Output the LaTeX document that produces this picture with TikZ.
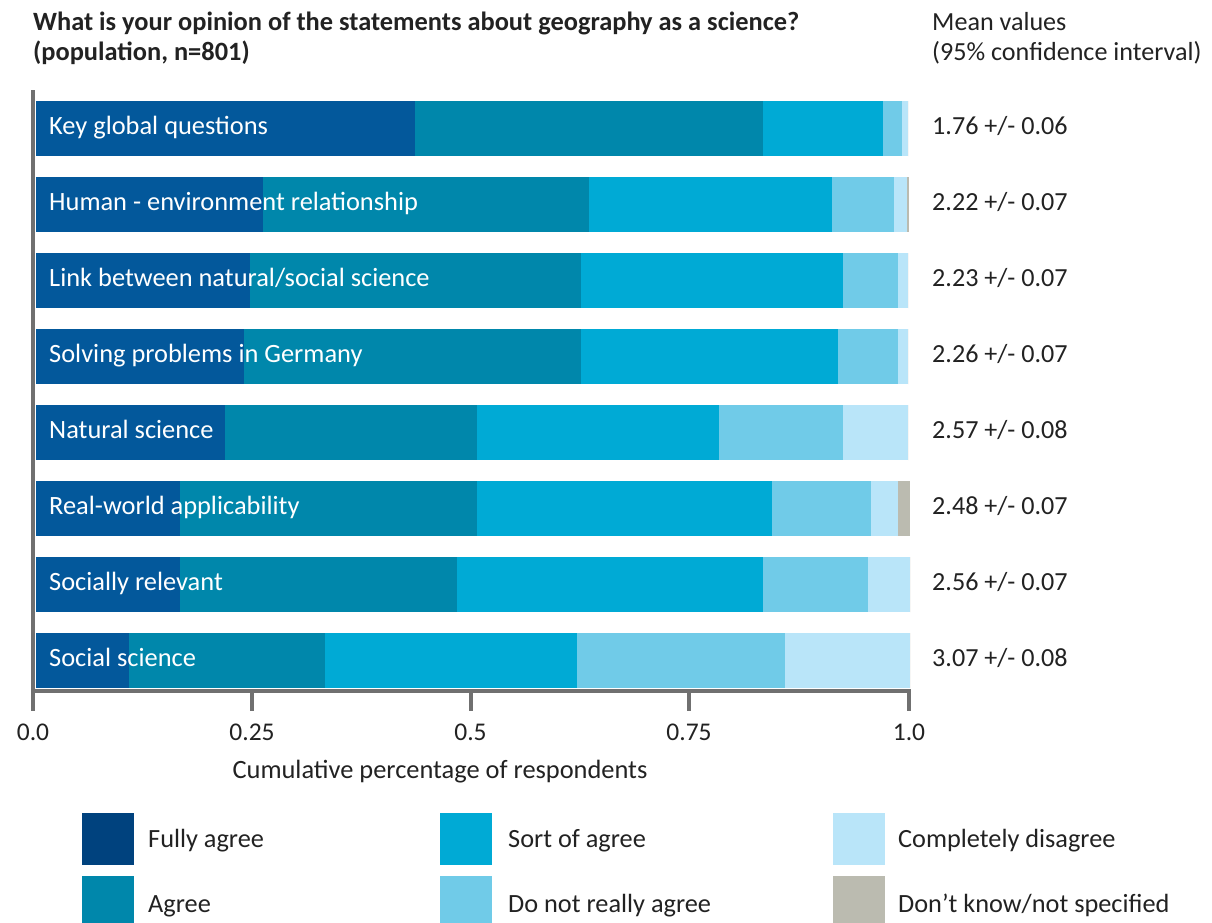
\documentclass[tikz,border=0pt]{standalone}
\usepackage{fontspec}
\setmainfont{Carlito}
\definecolor{cfa}{HTML}{03589B}
\definecolor{cfaleg}{HTML}{00427E}
\definecolor{cag}{HTML}{0087AB}
\definecolor{cso}{HTML}{00AAD5}
\definecolor{cnr}{HTML}{70CBE8}
\definecolor{ccd}{HTML}{B9E5F9}
\definecolor{cdk}{HTML}{BBBBB0}
\definecolor{ctxt}{HTML}{222222}
\definecolor{caxis}{HTML}{707070}
\begin{document}
\begin{tikzpicture}[x=1pt,y=-1pt,
  barlbl/.style={anchor=base west,inner sep=0pt,text=white,font=\fontsize{26.4}{30}\selectfont},
  valtxt/.style={anchor=base west,inner sep=0pt,text=ctxt,font=\fontsize{26.1}{30}\selectfont},
  titletxt/.style={anchor=base west,inner sep=0pt,text=ctxt,font=\bfseries\fontsize{26.4}{30}\selectfont},
  ticktxt/.style={anchor=base,inner sep=0pt,text=ctxt,font=\fontsize{25.5}{30}\selectfont},
  legtxt/.style={anchor=base west,inner sep=0pt,text=ctxt,font=\fontsize{26.3}{30}\selectfont},
  axisline/.style={draw=caxis,line width=4pt}]
\useasboundingbox (0,0) rectangle (1212,922);
\fill[white] (0,0) rectangle (1212,922);
% titles
\node[titletxt] (t1) at (33,30) {What is your opinion of the statements about geography as a science?};
\node[titletxt] (t2) at (33,60) {(population, n=801)};
\node[valtxt] (m1) at (932,30) {Mean values};
\node[valtxt] (m2) at (932,60) {(95\% confidence interval)};
% bars
\newcommand\mybar[7]{%
  \fill[cfa] (36,#1) rectangle (#2,#1+55);
  \fill[cag] (#2,#1) rectangle (#3,#1+55);
  \fill[cso] (#3,#1) rectangle (#4,#1+55);
  \fill[cnr] (#4,#1) rectangle (#5,#1+55);
  \fill[ccd] (#5,#1) rectangle (#6,#1+55);
  \fill[cdk] (#6,#1) rectangle (#7,#1+55);}
\mybar{101}{415}{763}{883}{902}{908}{908}
\mybar{177}{263}{589}{832}{894}{907}{908.5}
\mybar{253}{250}{581}{843}{898}{908}{908}
\mybar{329}{244}{581}{838}{898}{908}{908}
\mybar{405}{225}{477}{719}{843}{908}{908}
\mybar{481}{180}{477}{772}{871}{898}{910}
\mybar{557}{180}{457}{763}{868}{910}{910}
\mybar{633}{129}{325}{577}{785}{910}{910}
% bar labels
\node[barlbl] (b1) at (49,134) {Key global questions};
\node[barlbl] (b2) at (49,210) {Human - environment relationship};
\node[barlbl] (b3) at (49,286) {Link between natural/social science};
\node[barlbl] (b4) at (49,362) {Solving problems in Germany};
\node[barlbl] (b5) at (49,438) {Natural science};
\node[barlbl] (b6) at (49,514) {Real-world applicability};
\node[barlbl] (b7) at (49,590) {Socially relevant};
\node[barlbl] (b8) at (49,666) {Social science};
% values
\node[valtxt] (v1) at (932,134) {1.76 +/- 0.06};
\node[valtxt] (v2) at (932,210) {2.22 +/- 0.07};
\node[valtxt] (v3) at (932,286) {2.23 +/- 0.07};
\node[valtxt] (v4) at (932,362) {2.26 +/- 0.07};
\node[valtxt] (v5) at (932,438) {2.57 +/- 0.08};
\node[valtxt] (v6) at (932,514) {2.48 +/- 0.07};
\node[valtxt] (v7) at (932,590) {2.56 +/- 0.07};
\node[valtxt] (v8) at (932,666) {3.07 +/- 0.08};
% axes
\coordinate (ytop) at (33,90);
\coordinate (origin) at (33,691);
\coordinate (xend) at (909,691);
\draw[axisline] (ytop) -- (33,711);
\draw[axisline,line width=3.5pt] (origin) -- (xend) -- (909,711);
\foreach \xx/\nm in {252/a,470.5/b,689/c}{
  \coordinate (tk\nm) at (\xx,691);
  \draw[axisline] (tk\nm) -- (\xx,711);
}
\node[ticktxt] (x0) at (33,740) {0.0};
\node[ticktxt] (x1) at (252,740) {0.25};
\node[ticktxt] (x2) at (470.5,740) {0.5};
\node[ticktxt] (x3) at (689,740) {0.75};
\node[ticktxt] (x4) at (909,740) {1.0};
\node[ticktxt,font=\fontsize{26.4}{30}\selectfont] (xl) at (440,778) {Cumulative percentage of respondents};
% legend
\fill[cfaleg] (82,813) rectangle (134,865);
\fill[cag] (82,876) rectangle (134,928);
\fill[cso] (440,813) rectangle (492,865);
\fill[cnr] (440,876) rectangle (492,928);
\fill[ccd] (833,813) rectangle (885,865);
\fill[cdk] (833,876) rectangle (885,928);
\node[legtxt] (g1) at (148,847) {Fully agree};
\node[legtxt] (g2) at (148,912) {Agree};
\node[legtxt] (g3) at (508,847) {Sort of agree};
\node[legtxt] (g4) at (508,912) {Do not really agree};
\node[legtxt] (g5) at (898,847) {Completely disagree};
\node[legtxt] (g6) at (898,912) {Don’t know/not specified};
\end{tikzpicture}
\end{document}
